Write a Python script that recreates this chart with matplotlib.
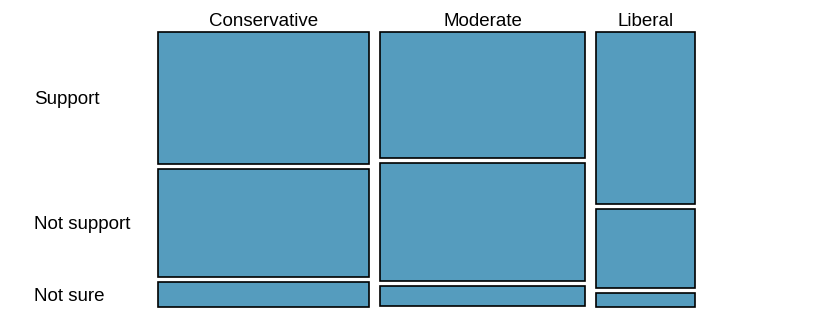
import matplotlib.pyplot as plt
import numpy as np

# mosaic data: share of each ideology group and responses within it
groups = ['Conservative', 'Moderate', 'Liberal']
group_share = [0.410, 0.398, 0.192]
responses = ['Support', 'Not support', 'Not sure']
support = [0.498, 0.475, 0.649]
not_support = [0.408, 0.445, 0.298]
not_sure = [0.094, 0.077, 0.053]

plt.rcParams['font.family'] = ['Liberation Sans', 'DejaVu Sans']

fig = plt.figure(figsize=(8.2, 3.32), dpi=100)
# axes spans the tile area (pixels 158..695 wide, 32..307 tall)
ax = fig.add_axes([158 / 820, (332 - 307) / 332, (695 - 158) / 820, (307 - 32) / 332])
ax.set_xlim(0, 1)
ax.set_ylim(1, 0)
ax.axis('off')

xgap = 11 / 537
ygap = 5 / 275
usable_w = 1 - xgap * (len(groups) - 1)
usable_h = 1 - ygap * (len(responses) - 1)

fracs = np.array([support, not_support, not_sure])
widths = np.array(group_share) * usable_w
lefts = np.concatenate([[0], np.cumsum(widths + xgap)[:-1]])

for j, g in enumerate(groups):
    top = 0
    for i, r in enumerate(responses):
        h = fracs[i, j] * usable_h
        ax.bar(lefts[j], h, width=widths[j], bottom=top, align='edge',
               color='#559cbe', edgecolor='black', linewidth=1.2, clip_on=False)
        if j == 0:
            # row labels sit level with the first column's tiles
            ax.text((34 - 158) / 537, top + h / 2 + 1.5 / 275, r, fontsize=13.5,
                    ha='left', va='center')
        top += h + ygap
    ax.text(lefts[j] + widths[j] / 2, -11 / 275, g, fontsize=13.5,
            ha='center', va='center')

fig.savefig('out.png', dpi=100)
